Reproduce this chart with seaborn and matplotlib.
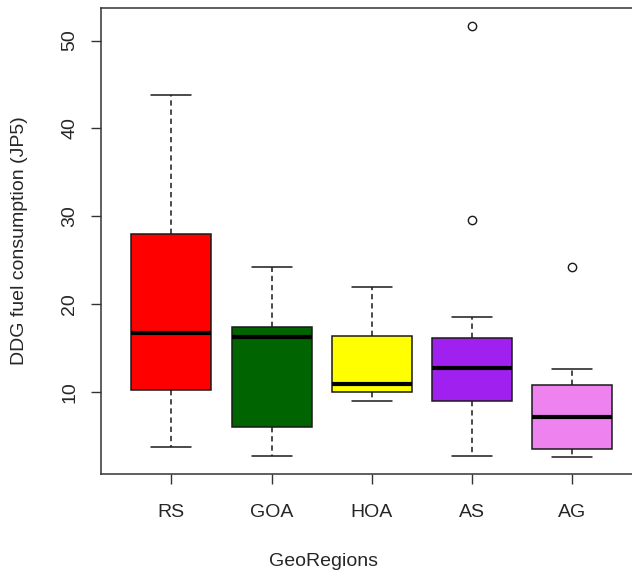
import numpy as np
import pandas as pd
import matplotlib
matplotlib.use("Agg")
import matplotlib.pyplot as plt
import seaborn as sns

# ---- data ----
regions = ["RS", "GOA", "HOA", "AS", "AG"]
rs_vals = [3.8, 10.3, 16.75, 28.0, 43.8]
goa_vals = [2.8, 6.1, 16.3, 17.4, 24.2]
hoa_vals = [9.0, 9.97, 10.95, 16.4, 22.0]
as_vals = [2.8, 5.5, 7.9, 9.0, 10.6, 11.9, 12.8, 13.7, 15.1, 16.2, 18.6, 29.6, 51.7]
ag_vals = [2.6, 3.1, 3.6, 5.2, 7.16, 9.4, 10.8, 12.66, 24.2]
box_colors = ["#FF0000", "#006400", "#FFFF00", "#A020F0", "#EE82EE"]

values_by_region = [rs_vals, goa_vals, hoa_vals, as_vals, ag_vals]
df = pd.DataFrame({
    "GeoRegions": [r for r, v in zip(regions, values_by_region) for _ in v],
    "fuel": [x for v in values_by_region for x in v],
})

sns.set_theme(style="white")
plt.rcParams["font.family"] = ["Liberation Sans", "DejaVu Sans"]
text_color = "#262626"
line_color = "#1a1a1a"

W, H = 632, 573
fig = plt.figure(figsize=(W / 100, H / 100), dpi=100)
left, right, top, bottom = 101.3, 642.2, 8.0, 474.0
ax = fig.add_axes([left / W, 1 - bottom / H, (right - left) / W, (bottom - top) / H])

sns.boxplot(
    data=df, x="GeoRegions", y="fuel", hue="GeoRegions", order=regions,
    hue_order=regions, palette=box_colors, saturation=1, width=0.8,
    legend=False, ax=ax, linecolor=line_color, linewidth=1.1, whis=1.5,
    medianprops=dict(color="black", linewidth=3.0),
    whiskerprops=dict(color=line_color, linewidth=1.1, linestyle=(0, (3.5, 2.5))),
    capprops=dict(color=line_color, linewidth=1.1),
    flierprops=dict(marker="o", markerfacecolor="none", markeredgecolor=line_color,
                    markersize=6, markeredgewidth=1.0),
)

ax.set_xlim(-0.7, 4.7)
ax.set_ylim(0.7, 53.7)
ax.set_yticks([10, 20, 30, 40, 50])
ax.set_yticklabels(["10", "20", "30", "40", "50"], rotation=90, va="center")

for s in ax.spines.values():
    s.set_color("#333333")
    s.set_linewidth(1.1)

ax.tick_params(axis="both", which="major", direction="out", length=7.5, width=1.0,
               color="#333333", labelsize=14, labelcolor=text_color)
ax.tick_params(axis="x", pad=14)
ax.tick_params(axis="y", pad=9)
ax.tick_params(left=True, bottom=True)

ax.set_xlabel("GeoRegions", fontsize=14, color=text_color)
ax.set_ylabel("DDG fuel consumption (JP5)", fontsize=14, color=text_color, va="center")
ax.xaxis.set_label_coords((323 - left) / (right - left), -(561 - bottom) / (bottom - top),
                          transform=ax.transAxes)
ax.xaxis.label.set_va("center")
ax.yaxis.set_label_coords((20 - left) / (right - left), 0.5)
ax.grid(False)

fig.savefig("out.png", dpi=100)
